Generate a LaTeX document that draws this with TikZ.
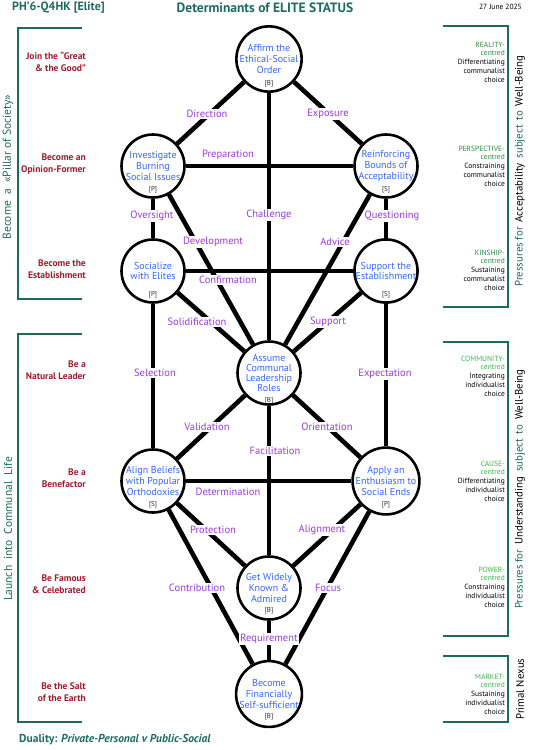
\documentclass[tikz,border=0pt]{standalone}
\usepackage{fontspec}
\setmainfont{PT Sans}
\usepackage{xcolor}
\usepackage{tikz}
\usetikzlibrary{calc}

\definecolor{deepteal}{HTML}{1E6B5E}
\definecolor{aimred}{HTML}{A01C2C}
\definecolor{stageblue}{HTML}{3366FF}
\definecolor{linkpurple}{HTML}{9A3CDC}
\definecolor{darkgreen}{HTML}{2D8A3E}
\definecolor{lightgreen}{HTML}{3DB54A}

\tikzset{
  stage/.style={circle, draw, line width=2.6pt, minimum size=63pt, inner sep=0pt,
    align=center, text=stageblue, font=\fontsize{10}{10.8}\selectfont},
  tag/.style={inner sep=0pt, text=black!85, font=\fontsize{7}{7}\selectfont},
  link/.style={line width=4.6pt},
  linklabel/.style={fill=white, inner sep=1.2pt, text=linkpurple, font=\fontsize{10.5}{11}\selectfont},
  aim/.style={align=right, anchor=east, inner sep=0pt, text=aimred, font=\bfseries\fontsize{9.5}{11.5}\selectfont},
  bracket/.style={draw=deepteal, line width=2pt},
  sidetitle/.style={rotate=90, inner sep=0pt, text=deepteal, font=\fontsize{11.5}{12}\selectfont},
  pressure/.style={align=right, anchor=east, inner sep=0pt, font=\fontsize{7.5}{8.7}\selectfont},
}

\begin{document}
\begin{tikzpicture}[x=1pt,y=-1pt]
\useasboundingbox (0,0) rectangle (535,750);

% Header
\node[anchor=west, inner sep=0pt, text=deepteal, font=\bfseries\fontsize{12}{12}\selectfont] (code) at (12,8) {PH’6-Q4HK [Elite]};
\node[inner sep=0pt, text=deepteal, font=\bfseries\fontsize{13.5}{14}\selectfont] (title) at (265,8) {Determinants of ELITE STATUS};
\node[anchor=east, inner sep=0pt, font=\fontsize{7.5}{8}\selectfont] (date) at (522,7) {27 June 2025};

% The ten stages
\node[stage] (affirm) at (269,59) {Affirm the\\Ethical-Social\\Order};
\node[stage] (burning) at (153,166) {Investigate\\Burning\\Social Issues};
\node[stage] (bounds) at (386,166) {Reinforcing\\Bounds of\\Acceptability};
\node[stage] (elites) at (153,271) {Socialize\\with Elites};
\node[stage] (establishment) at (386,271) {Support the\\Establishment};
\node[stage, font=\fontsize{10}{10.2}\selectfont] (leadership) at (269,373) {Assume\\Communal\\Leadership\\Roles};
\node[stage] (beliefs) at (153,481) {Align Beliefs\\with Popular\\Orthodoxies};
\node[stage] (enthusiasm) at (386,481) {Apply an\\Enthusiasm to\\Social Ends};
\node[stage] (known) at (269,588) {Get Widely\\Known \&\\Admired};
\node[stage] (selfsufficient) at (269,694) {Become\\Financially\\Self-sufficient};

% Small tags under the text
\foreach \n/\t/\d in {affirm/B/25, burning/P/24, bounds/S/24, elites/P/24, establishment/S/24,
                      leadership/B/28, beliefs/S/24, enthusiasm/P/24, known/B/23, selfsufficient/B/23} {
    \node[tag] (\n-tag) at ($(\n)+(0,\d)$) {[\t]};
}

% Paths between stages
\foreach \a/\b in {affirm/burning, affirm/bounds, affirm/leadership, burning/bounds,
                   burning/elites, bounds/establishment, burning/leadership, bounds/leadership,
                   elites/establishment, elites/leadership, establishment/leadership,
                   elites/beliefs, establishment/enthusiasm, leadership/beliefs,
                   leadership/enthusiasm, leadership/known, beliefs/enthusiasm,
                   beliefs/known, enthusiasm/known, beliefs/selfsufficient,
                   enthusiasm/selfsufficient, known/selfsufficient} {
    \draw[link] (\a) -- (\b);
}

% Path labels
\foreach \name/\x/\y/\word in {direction/207/114/Direction, exposure/328/114/Exposure,
        preparation/228/155/Preparation, challenge/269/215/Challenge,
        oversight/152/216/Oversight, questioning/392/216/Questioning,
        development/213/242/Development, advice/335/242/Advice,
        confirmation/228/280/Confirmation, solidification/197/322/Solidification,
        support/328/322/Support, selection/155/373/Selection,
        expectation/385/374/Expectation, validation/207/427/Validation,
        orientation/327/427/Orientation, facilitation/275/451/Facilitation,
        determination/228/492/Determination, protection/213/530/Protection,
        alignment/322/530/Alignment, contribution/197/588/Contribution,
        focus/328/588/Focus, requirement/269/639/Requirement} {
    \node[linklabel] (\name) at (\x,\y) {\word};
}

% Left brackets and aims
\draw[bracket] (82,28) -| (18,299) -- (82,299);
\draw[bracket] (82,334) -| (18,722) -- (82,722);
\node[sidetitle] (pillar) at (8,167) {Become\hspace{3pt} a\hspace{3pt} «Pillar of Society»};
\node[sidetitle] (launch) at (8,529) {Launch\hspace{3pt} into\hspace{3pt} Communal\hspace{3pt} Life};

\node[aim] (great) at (86,62) {Join the “Great\\\& the Good”};
\node[aim] (opinion) at (86,164) {Become an\\Opinion-Former};
\node[aim] (becomeest) at (86,269) {Become the\\Establishment};
\node[aim] (natural) at (86,370) {Be a\\Natural Leader};
\node[aim] (benefactor) at (86,478) {Be a\\Benefactor};
\node[aim] (famous) at (86,584) {Be Famous\\\& Celebrated};
\node[aim] (salt) at (86,692) {Be the Salt\\of the Earth};

% Right brackets and pressures
\draw[bracket] (443,26) -| (508,307) -- (443,307);
\draw[bracket] (443,342) -| (508,636) -- (443,636);
\draw[bracket] (443,656) -| (508,722) -- (443,722);
\node[sidetitle, text=black, font=\fontsize{10.8}{12}\selectfont] (acceptability) at (520,171)
    {{\color{deepteal}Pressures for}\hspace{2pt} Acceptability\hspace{2pt} {\color{deepteal}subject\hspace{2pt} to}\hspace{2pt} Well-Being};
\node[sidetitle, text=black, font=\fontsize{10.8}{12}\selectfont] (understanding) at (520,489)
    {{\color{deepteal}Pressures for}\hspace{2pt} Understanding\hspace{2pt} {\color{deepteal}subject\hspace{2pt} to}\hspace{2pt} Well-Being};
\node[sidetitle, text=black, font=\fontsize{10.8}{12}\selectfont] (nexus) at (520,689) {Primal Nexus};

\node[pressure] (reality) at (505,62) {\textcolor{darkgreen}{REALITY-}\\\textcolor{darkgreen}{centred}\\Differentiating\\communalist\\choice};
\node[pressure] (perspective) at (505,166) {\textcolor{darkgreen}{PERSPECTIVE-}\\\textcolor{darkgreen}{centred}\\Constraining\\communalist\\choice};
\node[pressure] (kinship) at (505,270) {\textcolor{darkgreen}{KINSHIP-}\\\textcolor{darkgreen}{centred}\\Sustaining\\communalist\\choice};
\node[pressure] (community) at (505,376) {\textcolor{lightgreen}{COMMUNITY-}\\\textcolor{lightgreen}{centred}\\Integrating\\individualist\\choice};
\node[pressure] (cause) at (505,481) {\textcolor{lightgreen}{CAUSE-}\\\textcolor{lightgreen}{centred}\\Differentiating\\individualist\\choice};
\node[pressure] (power) at (505,587) {\textcolor{lightgreen}{POWER-}\\\textcolor{lightgreen}{centred}\\Constraining\\individualist\\choice};
\node[pressure] (market) at (505,694) {\textcolor{lightgreen}{MARKET-}\\\textcolor{lightgreen}{centred}\\Sustaining\\individualist\\choice};

% Footer
\node[anchor=west, inner sep=0pt, text=deepteal, font=\bfseries\fontsize{11.5}{12}\selectfont] (duality) at (19,740)
    {Duality: \itshape Private-Personal v Public-Social};

\end{tikzpicture}
\end{document}
